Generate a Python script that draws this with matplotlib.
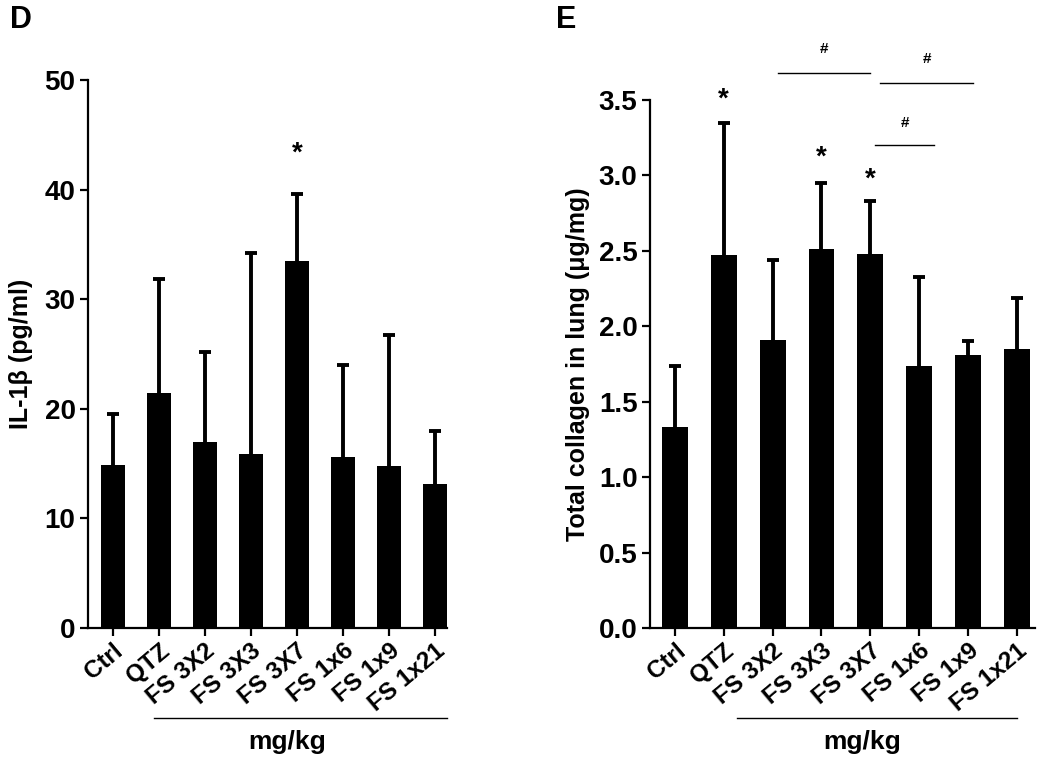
import matplotlib
matplotlib.use("Agg")
import matplotlib.pyplot as plt
import matplotlib.transforms as mtransforms

plt.rcParams['font.family'] = ['Liberation Sans', 'DejaVu Sans']
plt.rcParams['font.weight'] = 'bold'

groups = ['Ctrl', 'QTZ', 'FS 3X2', 'FS 3X3', 'FS 3X7', 'FS 1x6', 'FS 1x9', 'FS 1x21']

# panel D: IL-1beta
il1b_mean = [14.9, 21.4, 17.0, 15.9, 33.5, 15.6, 14.8, 13.1]
il1b_top = [19.5, 31.8, 25.2, 34.2, 39.6, 24.0, 26.7, 18.0]

# panel E: total collagen
coll_mean = [1.33, 2.47, 1.91, 2.51, 2.48, 1.74, 1.81, 1.85]
coll_top = [1.74, 3.35, 2.44, 2.95, 2.83, 2.33, 1.90, 2.19]

# significance marks: (group index, y)
stars_d = [(4, 43.3)]
stars_e = [(1, 3.50), (3, 3.12), (4, 2.97)]
# hash brackets: (x start, x end, line y, label y)
hash_e = [(2.1, 4.0, 3.68, 3.84), (4.2, 6.1, 3.61, 3.77), (4.1, 5.3, 3.20, 3.35)]

fig = plt.figure(figsize=(10.5, 7.57), dpi=100)
W, H = 1050, 757


def panel(rect, mean, top, ylim, yticks, fmt, xlim, width):
    ax = fig.add_axes(rect)
    x = list(range(len(groups)))
    err = [[0] * len(mean), [t - m for t, m in zip(top, mean)]]
    ax.bar(x, mean, width=width, color='black', zorder=2)
    eb = ax.errorbar(x, mean, yerr=err, fmt='none', ecolor='black', elinewidth=2.8,
                     capsize=4.5, capthick=2.8, zorder=1)
    eb[1][0].set_visible(False)  # no cap at the bar top
    ax.set_xlim(*xlim)
    ax.set_ylim(*ylim)
    ax.set_yticks(yticks)
    ax.set_yticklabels([fmt.format(v) for v in yticks], fontsize=20, fontweight='bold')
    ax.set_xticks(x)
    ax.set_xticklabels(groups, rotation=40, ha='right', va='top', rotation_mode='anchor',
                       fontsize=17.5, fontweight='bold')
    shift = mtransforms.ScaledTranslation(5 / 100, 0, fig.dpi_scale_trans)
    for lab in ax.get_xticklabels():
        lab.set_transform(lab.get_transform() + shift)
    for s in ['top', 'right']:
        ax.spines[s].set_visible(False)
    for s in ['left', 'bottom']:
        ax.spines[s].set_linewidth(1.6)
    ax.tick_params(axis='both', direction='out', length=6, width=1.6, pad=3)
    ax.tick_params(axis='x', pad=2)
    return ax


def px_rect(x0, x1, ytop, ybot):
    return [x0 / W, 1 - ybot / H, (x1 - x0) / W, (ybot - ytop) / H]


# left panel
axd = panel(px_rect(88, 447, 80, 628), il1b_mean, il1b_top, (0, 50), [0, 10, 20, 30, 40, 50],
            '{:d}', (-0.54, 7.26), 0.52)
axd.set_ylabel('IL-1β (pg/ml)', fontsize=18, fontweight='bold', labelpad=8)
for i, y in stars_d:
    axd.text(i, y, '*', ha='center', va='center', fontsize=20, fontweight='bold')

# right panel
axe = panel(px_rect(650, 1035, 100, 628), coll_mean, coll_top, (0, 3.5),
            [0.0, 0.5, 1.0, 1.5, 2.0, 2.5, 3.0, 3.5], '{:.1f}', (-0.51, 7.37), 0.53)
axe.set_ylabel('Total collagen in lung (μg/mg)', fontsize=18, fontweight='bold', labelpad=6)
for i, y in stars_e:
    axe.text(i, y, '*', ha='center', va='center', fontsize=20, fontweight='bold')
for x0, x1, ly, ty in hash_e:
    axe.plot([x0, x1], [ly, ly], color='black', lw=1.0, clip_on=False)
    axe.text((x0 + x1) / 2, ty, '#', ha='center', va='center', fontsize=11, fontweight='bold')

# mg/kg brackets under the treated groups
for ax, x0, x1, ly, ty in [(axd, 0.9, 7.26, -0.164, -0.208), (axe, 1.27, 7.0, -0.170, -0.216)]:
    tr = mtransforms.blended_transform_factory(ax.transData, ax.transAxes)
    ax.plot([x0, x1], [ly, ly], color='black', lw=1.0, transform=tr, clip_on=False)
    ax.text((x0 + x1) / 2 - 0.3, ty, 'mg/kg', transform=tr, ha='center', va='center',
            fontsize=19, fontweight='bold')

fig.text(10 / W, 1 - 20 / H, 'D', fontsize=22, fontweight='bold', ha='left', va='center')
fig.text(556 / W, 1 - 20 / H, 'E', fontsize=22, fontweight='bold', ha='left', va='center')

fig.savefig('out.png', dpi=100)
